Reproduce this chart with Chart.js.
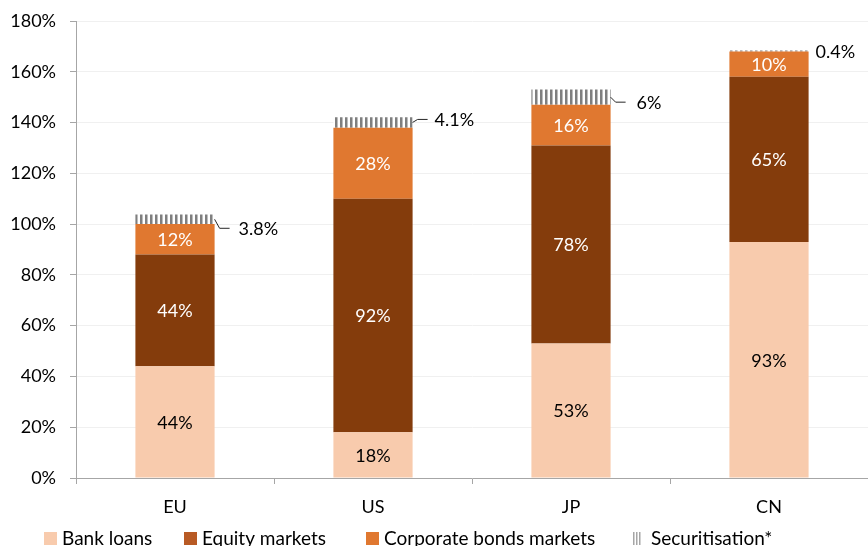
<!DOCTYPE html>
<html lang="en">
<head>
<meta charset="UTF-8" />
<title>Financing structure by region</title>
<script src="https://cdn.jsdelivr.net/npm/chart.js@4.4.0/dist/chart.umd.min.js"></script>
<style>
  html, body { margin: 0; padding: 0; background: #fff; overflow: hidden; }
</style>
</head>
<body>
<canvas id="chart" width="868" height="546"></canvas>
<script>
// data (% of GDP)
const regions = ["EU", "US", "JP", "CN"];
const bankLoans = [44, 18, 53, 93];
const equityMarkets = [44, 92, 78, 65];
const corporateBonds = [12, 28, 16, 10];
const securitisation = [3.8, 4.1, 6, 0.4];

const AXIS_GREY = "#a6a6a6";
const FONT = "Lato, 'Liberation Sans', sans-serif";

// vertical stripe pattern for securitisation
function stripes(dark, light) {
  const c = document.createElement("canvas");
  c.width = 5; c.height = 10;
  const g = c.getContext("2d");
  g.fillStyle = "#fff";
  g.fillRect(0, 0, 5, 10);
  g.fillStyle = dark;
  g.fillRect(0, 0, 2, 10);
  g.fillStyle = light;
  g.fillRect(2, 0, 1, 10);
  return g.createPattern(c, "repeat");
}
const secFill = stripes("#7f7f7f", "#bdbdbd");

Chart.defaults.font.family = FONT;
Chart.defaults.font.size = 18;
Chart.defaults.color = "#000";

// labels inside the bars + leader labels for securitisation
const barLabels = {
  id: "barLabels",
  afterDatasetsDraw(chart, args, opts) {
    const ctx = chart.ctx;
    ctx.save();
    ctx.font = "18px " + FONT;
    ctx.textBaseline = "middle";
    chart.data.datasets.forEach((ds, di) => {
      const meta = chart.getDatasetMeta(di);
      meta.data.forEach((el, i) => {
        const v = ds.data[i];
        const midY = (el.y + el.base) / 2;
        if (di < 3) {
          ctx.fillStyle = opts.inner[di];
          ctx.textAlign = "center";
          ctx.fillText(v + "%", el.x, midY + 1);
        } else {
          const o = opts.leader[i];
          const right = el.x + el.width / 2;
          const ly = midY + o.dy;
          if (o.line) {
            ctx.strokeStyle = "#262626";
            ctx.lineWidth = 1;
            ctx.beginPath();
            ctx.moveTo(right, midY);
            ctx.lineTo(right + 5, ly);
            ctx.lineTo(right + 15, ly);
            ctx.stroke();
          }
          ctx.fillStyle = "#000";
          ctx.textAlign = "left";
          ctx.fillText(v + "%", right + o.dx, ly + 1);
        }
      });
    });
    ctx.restore();
  }
};

// legend drawn by hand so box/text spacing matches
const bottomLegend = {
  id: "bottomLegend",
  afterDraw(chart, args, opts) {
    const ctx = chart.ctx;
    ctx.save();
    ctx.font = "19px " + FONT;
    ctx.textBaseline = "middle";
    ctx.textAlign = "left";
    chart.data.datasets.forEach((ds, i) => {
      const x = opts.xs[i];
      const y = opts.y;
      if (i === 3) {
        ctx.fillStyle = "#a6a6a6";
        for (let k = 0; k < 3; k++) ctx.fillRect(x + k * 3, y - 6, 1.5, 13);
      } else {
        ctx.fillStyle = opts.boxColors[i];
        ctx.fillRect(x, y - 6, 13, 13);
      }
      ctx.fillStyle = "#000";
      ctx.fillText(ds.label, x + 18, y + 1);
    });
    ctx.restore();
  }
};

new Chart(document.getElementById("chart"), {
  type: "bar",
  data: {
    labels: regions,
    datasets: [
      { label: "Bank loans", data: bankLoans, backgroundColor: "#f8cbad" },
      { label: "Equity markets", data: equityMarkets, backgroundColor: "#843c0c" },
      { label: "Corporate bonds markets", data: corporateBonds, backgroundColor: "#e07830" },
      { label: "Securitisation*", data: securitisation, backgroundColor: secFill }
    ]
  },
  options: {
    responsive: false,
    animation: false,
    borderWidth: 0,
    categoryPercentage: 1,
    barPercentage: 0.4,
    layout: { padding: { top: 21, left: 0, right: 0, bottom: 30 } },
    scales: {
      x: {
        stacked: true,
        grid: { drawOnChartArea: false, offset: true, tickLength: 6, tickColor: AXIS_GREY },
        border: { color: AXIS_GREY },
        ticks: { padding: 12 },
        afterFit: s => { s.height = 38; }
      },
      y: {
        stacked: true,
        min: 0, max: 180,
        grid: { color: "#f0f0f0", tickLength: 6, tickColor: AXIS_GREY },
        border: { color: AXIS_GREY },
        ticks: { stepSize: 20, padding: 14, callback: v => v + "%" },
        afterFit: s => { s.width = 76; s.paddingTop = 0; s.paddingBottom = 0; }
      }
    },
    plugins: {
      legend: { display: false },
      tooltip: { enabled: false },
      barLabels: {
        inner: ["#000", "#fff", "#fff"],
        leader: [
          { dx: 24, dy: 9, line: true },
          { dx: 22, dy: -3, line: true },
          { dx: 26, dy: 5, line: true },
          { dx: 7, dy: 0, line: false }
        ]
      },
      bottomLegend: {
        y: 538,
        xs: [44, 184, 366, 633],
        boxColors: ["#f8cbad", "#b85a24", "#e07830"]
      }
    }
  },
  plugins: [barLabels, bottomLegend]
});
</script>
</body>
</html>
